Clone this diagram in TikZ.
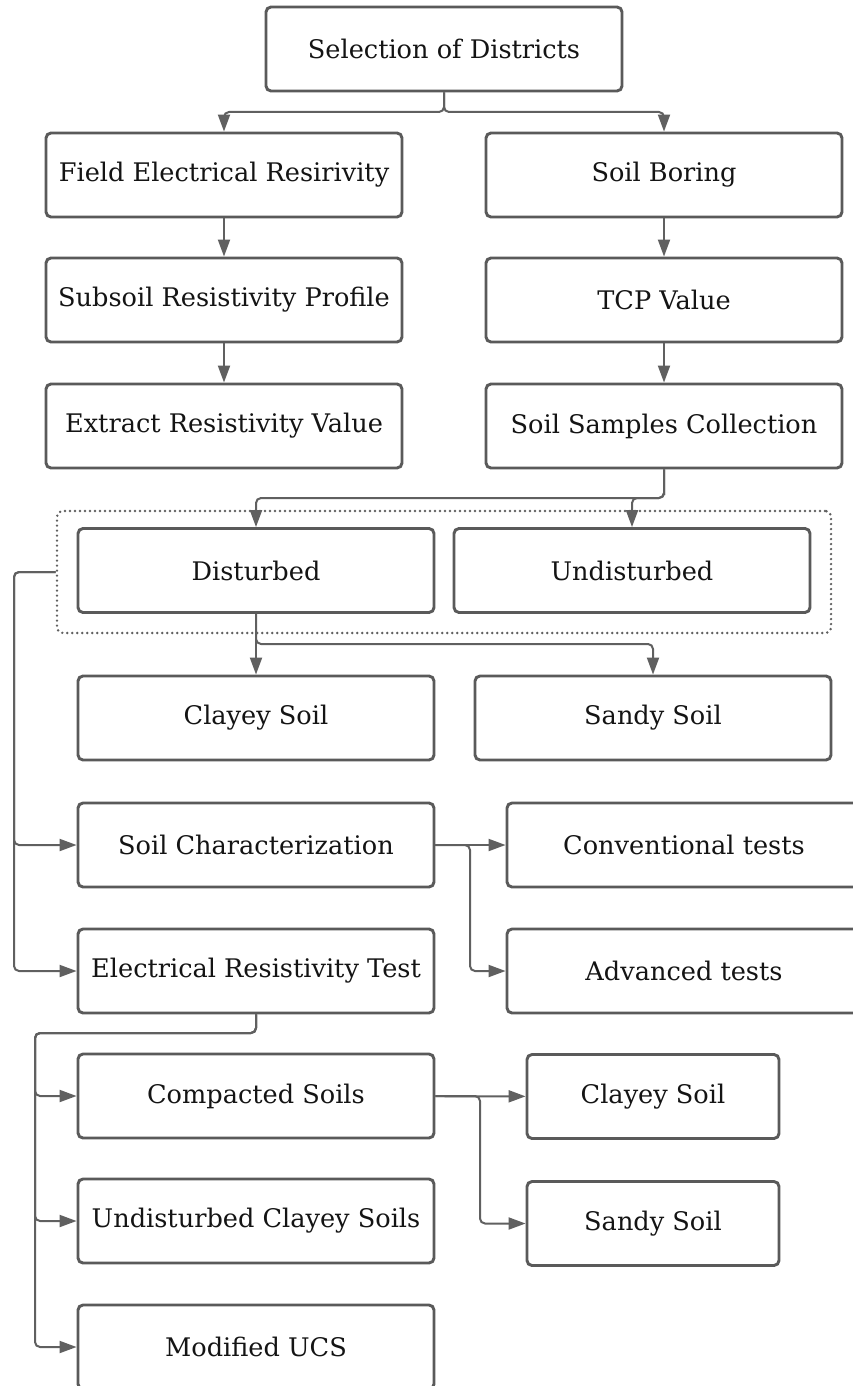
\documentclass[tikz,border=0pt]{standalone}
\usepackage{fontspec}
\setmainfont{DejaVu Serif}
\usetikzlibrary{arrows.meta}
\definecolor{edgegray}{HTML}{5A5A5A}
\definecolor{linegray}{HTML}{606060}
\definecolor{inkdark}{HTML}{141414}
\tikzset{
  x=1pt, y=-1pt,
  box/.style={draw=edgegray, line width=2.9pt, rounded corners=5pt, fill=white,
    minimum width=356pt, minimum height=84pt, inner sep=0pt, text=inkdark,
    font=\fontsize{25.6}{30}\selectfont},
  narrowbox/.style={box, minimum width=252pt},
  widebox/.style={box, minimum width=354pt},
  groupframe/.style={draw=linegray, line width=2.7pt, dash pattern=on 0pt off 5pt,
    line cap=round, rounded corners=6pt, minimum width=774pt, minimum height=122pt,
    inner sep=0pt},
  conn/.style={draw=linegray, line width=2pt, rounded corners=5pt,
    -{Triangle[length=17pt,width=12pt]}},
}
\begin{document}
\begin{tikzpicture}
\useasboundingbox (0,0) rectangle (853,1386);
\clip (0,0) rectangle (853,1386);
\fill[white] (0,0) rectangle (853,1386);

% dotted frame around the two sample types
\node[groupframe] (grp) at (444,572) {};

% top of the chart
\node[box] (sel) at (444,49) {Selection of Districts};

% left branch: field resistivity
\node[box] (fer) at (224,175) {Field Electrical Resirivity};
\node[box] (srp) at (224,300) {Subsoil Resistivity Profile};
\node[box] (erv) at (224,426) {Extract Resistivity Value};

% right branch: boring and sampling
\node[box] (sbo) at (664,175) {Soil Boring};
\node[box] (tcp) at (664,300) {TCP Value};
\node[box] (ssc) at (664,426) {Soil Samples Collection};

% sample types
\node[box] (dis) at (256,570.5) {Disturbed};
\node[box] (und) at (632,570.5) {Undisturbed};

% soil types
\node[box] (cly) at (256,718) {Clayey Soil};
\node[box] (sdy) at (653,718) {Sandy Soil};

% laboratory work
\node[box] (sch) at (256,845) {Soil Characterization};
\node[box] (ert) at (256,971) {Electrical Resistivity Test};
\node[widebox] (cvt) at (684,845) {Conventional tests};
\node[widebox] (adv) at (684,971) {Advanced tests};

% resistivity test series
\node[box] (cmp) at (256,1096) {Compacted Soils};
\node[box] (ucl) at (256,1221) {Undisturbed Clayey Soils};
\node[box] (ucs) at (256,1347) {Modified UCS};
\node[narrowbox] (cly2) at (653,1096.5) {Clayey Soil};
\node[narrowbox] (sdy2) at (653,1223.5) {Sandy Soil};

% bend points
\coordinate (selj) at (444,112);
\coordinate (sscj) at (664,498);
\coordinate (disj) at (256,644);
\coordinate (grpj) at (14,572);
\coordinate (schj) at (470,845);
\coordinate (ertj) at (35,1033);
\coordinate (cmpj) at (480,1096);

% connectors
\draw[conn] (sel.south) |- (selj) -| (fer.north);
\draw[conn] (sel.south) |- (selj) -| (sbo.north);
\draw[conn] (fer) -- (srp);
\draw[conn] (srp) -- (erv);
\draw[conn] (sbo) -- (tcp);
\draw[conn] (tcp) -- (ssc);
\draw[conn] (ssc.south) |- (sscj) -| (dis.north);
\draw[conn] (ssc.south) |- (sscj) -| (und.north);
\draw[conn] (dis) -- (cly);
\draw[conn] (dis.south) |- (disj) -| (sdy.north);
\draw[conn] (grp.west) -- (grpj) |- (sch.west);
\draw[conn] (grp.west) -- (grpj) |- (ert.west);
\draw[conn] (sch) -- (cvt);
\draw[conn] (sch.east) -- (schj) |- (adv.west);
\draw[conn] (ert.south) |- (ertj) |- (cmp.west);
\draw[conn] (ert.south) |- (ertj) |- (ucl.west);
\draw[conn] (ert.south) |- (ertj) |- (ucs.west);
\draw[conn] (cmp) -- (cly2);
\draw[conn] (cmp.east) -- (cmpj) |- (sdy2.west);
\end{tikzpicture}
\end{document}
